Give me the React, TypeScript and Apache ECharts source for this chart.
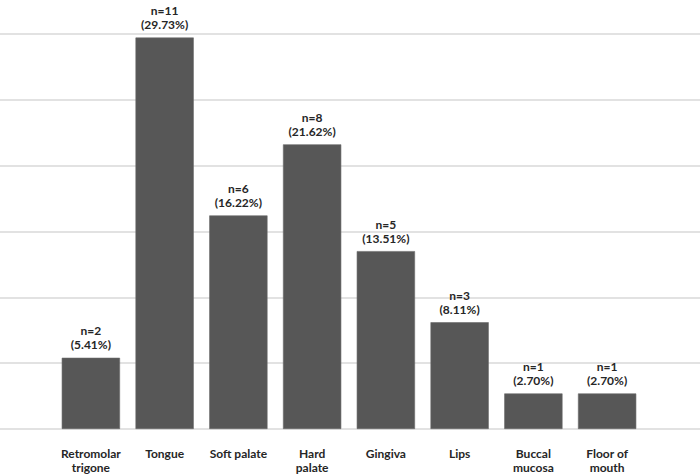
import React, { useEffect, useRef } from "react";
import * as echarts from "echarts";

const categories = [
  "Retromolar\ntrigone",
  "Tongue",
  "Soft palate",
  "Hard\npalate",
  "Gingiva",
  "Lips",
  "Buccal\nmucosa",
  "Floor of\nmouth",
];
const counts = [2, 11, 6, 8, 5, 3, 1, 1];
const percents = [5.41, 29.73, 16.22, 21.62, 13.51, 8.11, 2.7, 2.7];
const yTicks = { min: 0, max: 30, interval: 5 };

export default function App() {
  const ref = useRef<HTMLDivElement>(null);
  useEffect(() => {
    if (!ref.current) return;
    const chart = echarts.init(ref.current, null, { renderer: "svg" });
    const font = "Lato, 'Open Sans', sans-serif";
    chart.setOption({
      animation: false,
      backgroundColor: "#ffffff",
      grid: [
        { left: 54, right: 56, top: 34, bottom: 47 },
        { left: 0, right: 0, top: 34, bottom: 47 },
      ],
      xAxis: [
        {
          type: "category",
          gridIndex: 0,
          data: categories,
          axisLine: { show: false },
          axisTick: { show: false },
          axisLabel: {
            interval: 0,
            margin: 17,
            color: "#262626",
            fontFamily: font,
            fontSize: 12,
            fontWeight: "bold",
            lineHeight: 14,
          },
        },
        { type: "value", gridIndex: 1, min: 0, max: 1, show: false },
      ],
      yAxis: [
        {
          type: "value",
          gridIndex: 0,
          ...yTicks,
          show: false,
          splitLine: { show: false },
        },
        {
          type: "value",
          gridIndex: 1,
          ...yTicks,
          axisLine: { show: false },
          axisTick: { show: false },
          axisLabel: { show: false },
          splitLine: { show: true, lineStyle: { color: "#d9d9d9", width: 1.5 } },
        },
      ],
      series: [
        {
          type: "bar",
          xAxisIndex: 0,
          yAxisIndex: 0,
          data: percents,
          barCategoryGap: "21%",
          z: 3,
          itemStyle: { color: "#575757", borderColor: "#6a6a6a", borderWidth: 0.6 },
          label: {
            show: true,
            position: "top",
            distance: 6,
            color: "#262626",
            fontFamily: font,
            fontSize: 12,
            fontWeight: "bold",
            lineHeight: 14,
            formatter: (p: any) =>
              `n=${counts[p.dataIndex]}\n(${percents[p.dataIndex].toFixed(2)}%)`,
          },
        },
      ],
    });
    return () => chart.dispose();
  }, []);
  return (
    <div
      ref={ref}
      style={{ position: "absolute", left: 0, top: 0, width: 700, height: 476 }}
    />
  );
}
